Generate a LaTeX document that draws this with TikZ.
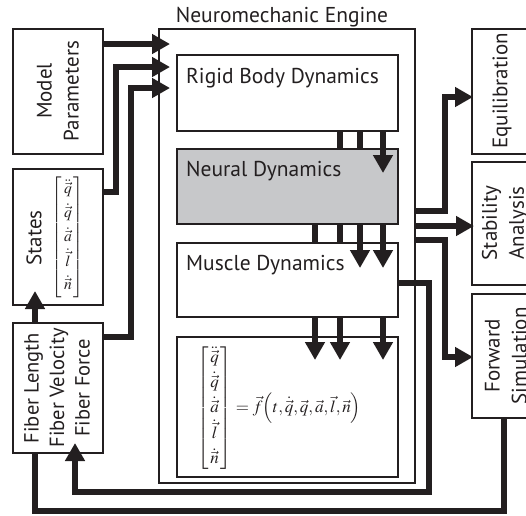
\documentclass[tikz,border=0pt]{standalone}
\usepackage{mathptmx}
\usepackage{fontspec}
\setmainfont{PT Sans}
\usetikzlibrary{arrows.meta,calc}
\definecolor{ink}{RGB}{35,31,32}
\definecolor{neuralgray}{RGB}{199,200,202}
\begin{document}
\begin{tikzpicture}[x=1pt,y=-1pt,
  box/.style={draw=ink, line width=1.6pt, fill=white, anchor=north west,
    inner sep=0pt, outer sep=0pt},
  lbl/.style={text=ink, font=\fontsize{21}{27}\selectfont, inner sep=0pt},
  vlbl/.style={lbl, rotate=90, align=center},
  boxlbl/.style={lbl, anchor=base west, font=\fontsize{21.5}{26}\selectfont},
  mathlbl/.style={text=ink, inner sep=0pt, font=\fontsize{17}{20}\selectfont},
  flow/.style={draw=ink, line width=6.5pt},
  arr/.style={flow, -{Triangle[length=18pt,width=19pt]}},
]
\useasboundingbox (0,0) rectangle (526,515);
\clip (0,0) rectangle (526,515);

% engine and its inner stages
\node[box, minimum width=256pt, minimum height=454pt] (eng) at (159,29) {};
\node[box, minimum width=221pt, minimum height=76pt] (rb) at (177,55) {};
\node[box, fill=neuralgray, minimum width=221pt, minimum height=75pt] (nd) at (177,149) {};
\node[box, minimum width=221pt, minimum height=74pt] (md) at (177,243) {};
\node[box, minimum width=221pt, minimum height=140pt] (eq) at (177,337) {};

% inputs on the left
\node[box, minimum width=90pt, minimum height=125pt] (mp) at (13,29) {};
\node[box, minimum width=90pt, minimum height=136pt] (st) at (13,169) {};

% feedback from the forward simulation into the states (runs behind the fiber box)
\node[box, minimum width=100pt, minimum height=124pt] (fs) at (472,294) {};
\draw[arr] ($(fs.south west)+(32,0)$) -- ($(fs.south west)+(32,93)$)
  -| ($(st.south west)+(22,-14)$);

\node[box, minimum width=90pt, minimum height=130pt] (fb) at (13,323) {};

% analyses on the right
\node[box, minimum width=100pt, minimum height=125pt] (eb) at (472,29) {};
\node[box, minimum width=100pt, minimum height=123pt] (sa) at (472,162) {};

% inputs into the engine
\draw[arr] ($(mp.north east)+(0,15)$) -- ($(eng.north west)+(11,15)$);
\draw[arr] ($(st.north east)+(0,23)$) -| ($(eng.north west)+(-43,38)$)
  -- ($(eng.north west)+(11,38)$);
\draw[arr] ($(fb.north east)+(0,14)$) -| ($(eng.north west)+(-28,59)$)
  -- ($(eng.north west)+(11,59)$);

% rigid body -> neural
\draw[flow] ($(rb.south west)+(163,0)$) -- ($(nd.north west)+(163,0)$);
\draw[flow] ($(rb.south west)+(183,0)$) -- ($(nd.north west)+(183,0)$);
\draw[arr]  ($(rb.south west)+(206,0)$) -- ($(nd.north west)+(206,24)$);

% neural -> muscle
\draw[flow] ($(nd.south west)+(138,0)$) -- ($(md.north west)+(138,0)$);
\draw[flow] ($(nd.south west)+(163,0)$) -- ($(md.north west)+(163,0)$);
\draw[arr]  ($(nd.south west)+(183,0)$) -- ($(md.north west)+(183,25)$);
\draw[arr]  ($(nd.south west)+(206,0)$) -- ($(md.north west)+(206,25)$);

% muscle -> state derivatives
\draw[arr] ($(md.south west)+(138,0)$) -- ($(eq.north west)+(138,23)$);
\draw[arr] ($(md.south west)+(163,0)$) -- ($(eq.north west)+(163,23)$);
\draw[arr] ($(md.south west)+(206,0)$) -- ($(eq.north west)+(206,23)$);

% engine outputs
\draw[arr] ($(eng.north east)+(0,182)$) -| ($(eb.north west)+(-27,68)$)
  -- ($(eb.north west)+(1,68)$);
\draw[arr] ($(eng.north east)+(0,197)$) -- ($(sa.north west)+(2,64)$);
\draw[arr] ($(eng.north east)+(0,211)$) -| ($(fs.north west)+(-27,63)$)
  -- ($(fs.north west)+(1,63)$);

% muscle feedback into the fiber quantities
\draw[arr] ($(md.north east)+(0,40)$) -| ($(eng.south east)+(14,9)$)
  -| ($(fb.south west)+(62,-10)$);

% labels
\node[lbl, font=\fontsize{21.5}{26}\selectfont] (title) at (282,17) {Neuromechanic Engine};
\node[boxlbl] (rbt) at (186,83) {Rigid Body Dynamics};
\node[boxlbl] (ndt) at (186,176) {Neural Dynamics};
\node[boxlbl] (mdt) at (186,270) {Muscle Dynamics};

\node[vlbl] (mpt) at (58,91) {Model\\Parameters};
\node[vlbl] (stt) at (34,238) {States};
\node[vlbl, font=\fontsize{20.5}{25.5}\selectfont] (fbt) at (57,388)
  {Fiber Length\\Fiber Velocity\\Fiber Force};
\node[vlbl] (ebt) at (502,91) {Equilibration};
\node[vlbl] (sat) at (505,223) {Stability\\Analysis};
\node[vlbl] (fst) at (506,356) {Forward\\Simulation};

\node[mathlbl, font=\fontsize{15.5}{19}\selectfont] (stv) at (68,237)
  {$\renewcommand{\arraystretch}{1.25}\setlength{\arraycolsep}{2pt}%
   \left[\begin{array}{c}\ddot{\vec q}\\ \dot{\vec q}\\ \dot{\vec a}\\
   \dot{\vec l}\\ \dot{\vec n}\end{array}\right]$};
\node[mathlbl] (eqv) at (279,408)
  {$\renewcommand{\arraystretch}{1.25}\setlength{\arraycolsep}{2pt}%
   \left[\begin{array}{c}\ddot{\vec q}\\ \dot{\vec q}\\ \dot{\vec a}\\
   \dot{\vec l}\\ \dot{\vec n}\end{array}\right]
   = \vec f\Bigl(t,\dot{\vec q},\vec q,\vec a,\vec l,\vec n\Bigr)$};
\end{tikzpicture}
\end{document}
